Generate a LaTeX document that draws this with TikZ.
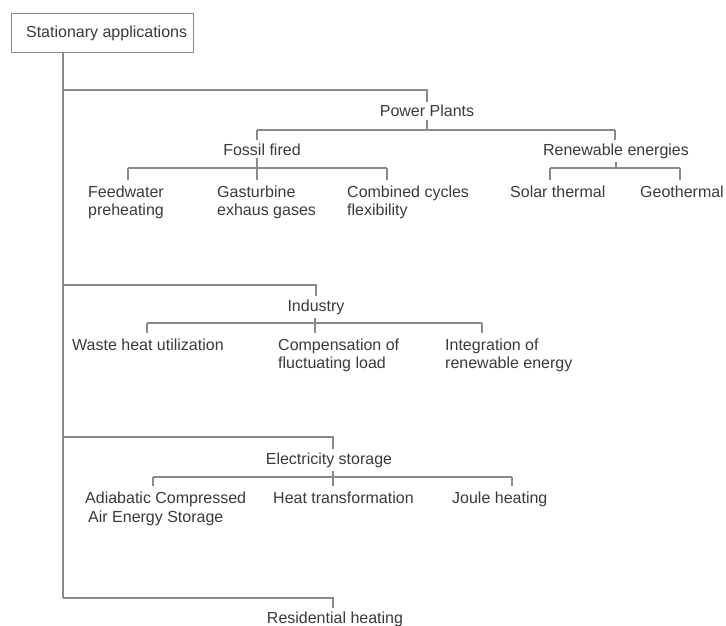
\documentclass[tikz,border=0pt]{standalone}
\usepackage{fontspec}
\setmainfont{Liberation Sans}
\definecolor{txt}{HTML}{3A3A3A}
\definecolor{ln}{HTML}{8A8A8A}
\begin{document}
\begin{tikzpicture}[x=1pt,y=-1pt,
  every node/.style={font=\fontsize{16}{18}\selectfont, text=txt},
  conn/.style={draw=ln, line width=1.2pt},
  head/.style={anchor=base, inner sep=3pt},
  leaf/.style={anchor=north west, align=left, inner xsep=0pt, inner ysep=5.5pt}]
\useasboundingbox (0,0) rectangle (726,626);

% root
\node[draw=ln, line width=1.2pt, minimum width=182pt, minimum height=39pt,
      anchor=north west, inner sep=0pt] (root) at (11,13) {\hspace*{8pt}Stationary applications};

% category headings
\node[head] (pp) at (427,117) {Power Plants};
\node[head] (ff) at (262,155) {Fossil fired};
\node[head] (re) at (616,155) {Renewable energies};
\node[head] (in) at (316,311) {Industry};
\node[head] (es) at (329,464) {Electricity storage};
\node[head] (rh) at (335,623) {Residential heating};

% leaves
\node[leaf] (fw) at (88,180)  {Feedwater\\preheating};
\node[leaf] (gt) at (217,180) {Gasturbine\\exhaus gases};
\node[leaf] (cc) at (347,180) {Combined cycles\\flexibility};
\node[leaf] (st) at (510,180) {Solar thermal};
\node[leaf] (ge) at (640,180) {Geothermal};
\node[leaf] (wh) at (72,333)  {Waste heat utilization};
\node[leaf] (cf) at (278,333) {Compensation of\\fluctuating load};
\node[leaf] (ir) at (445,333) {Integration of\\renewable energy};
\node[leaf, font=\fontsize{16}{19}\selectfont] (ac) at (85,486) {Adiabatic Compressed\\\hspace*{3pt}Air Energy Storage};
\node[leaf] (ht) at (273,486) {Heat transformation};
\node[leaf] (jh) at (452,486) {Joule heating};

% junction points
\coordinate (trunk) at ([xshift=52pt]root.south west);
\coordinate (tPP) at (63,90);
\coordinate (tIN) at (63,285);
\coordinate (tES) at (63,437);
\coordinate (tRH) at (63,598);
\coordinate (ppj) at (427,130);
\coordinate (ffj) at (257,130);
\coordinate (rej) at (615,130);
\coordinate (fa) at (128,168);
\coordinate (fb) at (257,168);
\coordinate (fc) at (387,168);
\coordinate (ra) at (550,168);
\coordinate (rb) at (616,168);
\coordinate (rc) at (680,168);
\coordinate (ia) at (147,323);
\coordinate (ib) at (315,323);
\coordinate (ic) at (482,323);
\coordinate (ea) at (153,477);
\coordinate (eb) at (333,477);
\coordinate (ec) at (512,477);

% trunk and main branches
\draw[conn] (trunk) -- (tRH);
\draw[conn] (tPP) -| (pp.north);
\draw[conn] (tIN) -| (in.north);
\draw[conn] (tES) -| ([xshift=4pt]es.north);
\draw[conn] (tRH) -| ([xshift=-2pt]rh.north);

% power plants
\draw[conn] (pp.south) -- (ppj);
\draw[conn] (ffj) -- (rej);
\draw[conn] (ffj) -- (ffj |- ff.north);
\draw[conn] (rej) -- (rej |- re.north);
\draw[conn] (fb |- ff.south) -- (fb);
\draw[conn] (fa) -- (fc);
\draw[conn] (fa) -- (fa |- fw.north);
\draw[conn] (fb) -- (fb |- gt.north);
\draw[conn] (fc) -- (fc |- cc.north);
\draw[conn] (re.south) -- (rb);
\draw[conn] (ra) -- (rc);
\draw[conn] (ra) -- (ra |- st.north);
\draw[conn] (rc) -- (rc |- ge.north);

% industry
\draw[conn] (ib |- in.south) -- (ib);
\draw[conn] (ia) -- (ic);
\draw[conn] (ia) -- (ia |- wh.north);
\draw[conn] (ib) -- (ib |- cf.north);
\draw[conn] (ic) -- (ic |- ir.north);

% electricity storage
\draw[conn] (eb |- es.south) -- (eb);
\draw[conn] (ea) -- (ec);
\draw[conn] (ea) -- (ea |- ac.north);
\draw[conn] (eb) -- (eb |- ht.north);
\draw[conn] (ec) -- (ec |- jh.north);
\end{tikzpicture}
\end{document}
